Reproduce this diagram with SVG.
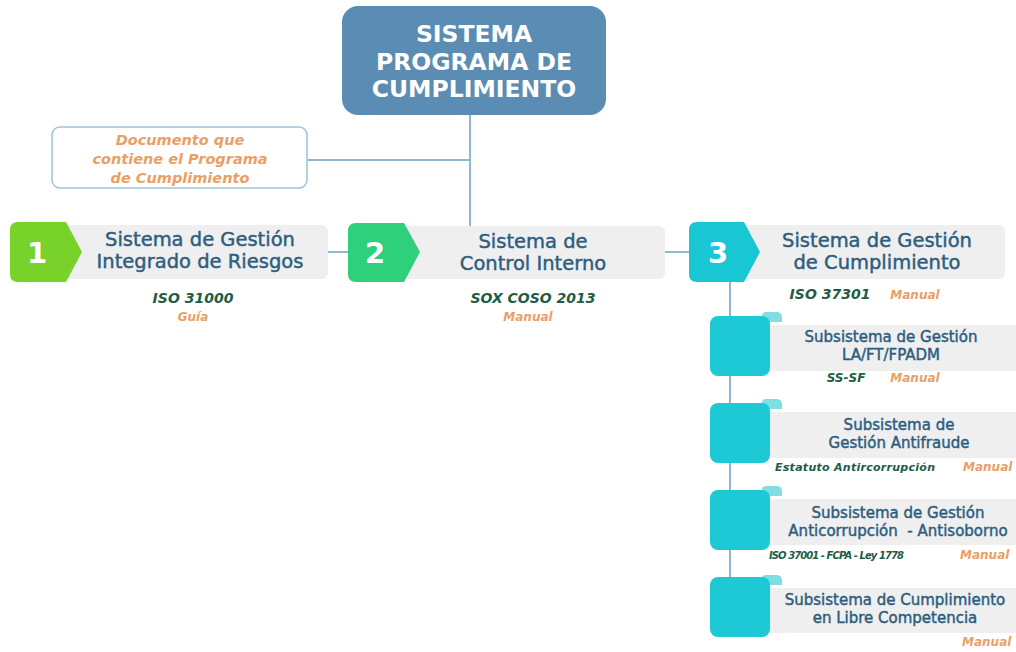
<svg xmlns="http://www.w3.org/2000/svg" width="1016" height="652" viewBox="0 0 1016 652">
<style>
.t{font-family:"DejaVu Sans","Noto Sans",sans-serif;font-weight:normal;fill:#2d5e7e;stroke:#2d5e7e;stroke-width:0.45;text-anchor:middle}
.h{font-size:19.5px}
.s{font-size:15px}
.iso{font-family:"DejaVu Sans","Noto Sans",sans-serif;font-weight:bold;font-style:italic;fill:#1e5c44}
.man{font-family:"DejaVu Sans","Noto Sans",sans-serif;font-weight:bold;font-style:italic;fill:#e9a066}
.bar{fill:#efeff0}
.num{font-family:"DejaVu Sans","Noto Sans",sans-serif;font-weight:bold;font-size:29px;fill:#fff;text-anchor:middle}
.ttl{font-family:"DejaVu Sans","Noto Sans",sans-serif;font-weight:bold;font-size:23.5px;fill:#fff;text-anchor:middle}
.ln{stroke:#8fb8d0;stroke-width:2;fill:none}
.sq{fill:#1cc9d5}
.tab{fill:#7fdde4}
</style>
<g id="connectors">
<line class="ln" x1="470" y1="112" x2="470" y2="226"/>
<line class="ln" x1="307" y1="160" x2="470" y2="160"/>
<line class="ln" x1="328" y1="252" x2="350" y2="252"/>
<line class="ln" x1="665" y1="252" x2="690" y2="252"/>
<line class="ln" x1="730" y1="280" x2="730" y2="628"/>
</g>
<g id="root">
<rect x="342" y="6" width="264" height="109" rx="16" fill="#5b8db4"/>
<text class="ttl" x="474" y="42">SISTEMA</text>
<text class="ttl" x="474" y="70">PROGRAMA DE</text>
<text class="ttl" x="474" y="97">CUMPLIMIENTO</text>
</g>
<g id="doc">
<rect x="52" y="127" width="255" height="61" rx="8" fill="#fff" stroke="#9cc4d8" stroke-width="1.5"/>
<text class="man" x="180" y="145" font-size="14.5" text-anchor="middle">Documento que</text>
<text class="man" x="180" y="164" font-size="14.5" text-anchor="middle">contiene el Programa</text>
<text class="man" x="180" y="183" font-size="14.5" text-anchor="middle">de Cumplimiento</text>
</g>
<g id="node1">
<rect class="bar" x="60" y="225" width="268" height="54" rx="6"/>
<path d="M18 222 H66 L82 252 L66 282 H18 Q10 282 10 274 V230 Q10 222 18 222 Z" fill="#78d22a"/>
<text class="num" x="37" y="263">1</text>
<text class="t h" x="200" y="246">Sistema de Gestión</text>
<text class="t h" x="200" y="268">Integrado de Riesgos</text>
<text class="iso" x="193" y="303" font-size="14" text-anchor="middle">ISO 31000</text>
<text class="man" x="193" y="321" font-size="12" text-anchor="middle">Guía</text>
</g>
<g id="node2">
<rect class="bar" x="398" y="226" width="267" height="53" rx="6"/>
<path d="M356 223 H404 L420 252 L404 282 H356 Q348 282 348 274 V231 Q348 223 356 223 Z" fill="#2fd07c"/>
<text class="num" x="375" y="263">2</text>
<text class="t h" x="533" y="248">Sistema de</text>
<text class="t h" x="533" y="270">Control Interno</text>
<text class="iso" x="533" y="303" font-size="14" text-anchor="middle">SOX COSO 2013</text>
<text class="man" x="528" y="321" font-size="12" text-anchor="middle">Manual</text>
</g>
<g id="node3">
<rect class="bar" x="738" y="225" width="267" height="54" rx="6"/>
<path d="M697 222 H744 L760 252 L744 282 H697 Q689 282 689 274 V230 Q689 222 697 222 Z" fill="#18c7d3"/>
<text class="num" x="718" y="263">3</text>
<text class="t h" x="877" y="247">Sistema de Gestión</text>
<text class="t h" x="877" y="269">de Cumplimiento</text>
<text class="iso" x="830" y="299" font-size="14" text-anchor="middle">ISO 37301</text>
<text class="man" x="915" y="299" font-size="12" text-anchor="middle">Manual</text>
</g>
<g id="sub1">
<rect class="bar" x="765" y="325" width="260" height="46" rx="4"/>
<path class="tab" d="M762 322 V316 Q762 312 766 312 H777 Q782 312 782 318 V322 Z"/>
<rect class="sq" x="710" y="316" width="60" height="60" rx="8"/>
<text class="t s" x="891" y="342">Subsistema de Gestión</text>
<text class="t s" x="891" y="360">LA/FT/FPADM</text>
<text class="iso" x="846" y="382" font-size="12" text-anchor="middle">SS-SF</text>
<text class="man" x="915" y="382" font-size="12" text-anchor="middle">Manual</text>
</g>
<g id="sub2">
<rect class="bar" x="765" y="412" width="260" height="46" rx="4"/>
<path class="tab" d="M762 409 V403 Q762 399 766 399 H777 Q782 399 782 405 V409 Z"/>
<rect class="sq" x="710" y="403" width="60" height="60" rx="8"/>
<text class="t s" x="899" y="430">Subsistema de</text>
<text class="t s" x="899" y="448">Gestión Antifraude</text>
<text class="iso" x="775" y="471" font-size="11" textLength="160">Estatuto Antircorrupción</text>
<text class="man" x="963" y="471" font-size="12">Manual</text>
</g>
<g id="sub3">
<rect class="bar" x="765" y="499" width="260" height="46" rx="4"/>
<path class="tab" d="M762 496 V490 Q762 486 766 486 H777 Q782 486 782 492 V496 Z"/>
<rect class="sq" x="710" y="490" width="60" height="60" rx="8"/>
<text class="t s" x="898" y="518">Subsistema de Gestión</text>
<text class="t s" x="898" y="536" xml:space="preserve">Anticorrupción  - Antisoborno</text>
<text class="iso" x="769" y="559" font-size="10" textLength="135">ISO 37001 - FCPA - Ley 1778</text>
<text class="man" x="960" y="559" font-size="12">Manual</text>
</g>
<g id="sub4">
<rect class="bar" x="765" y="588" width="260" height="45" rx="4"/>
<path class="tab" d="M762 585 V579 Q762 575 766 575 H777 Q782 575 782 581 V585 Z"/>
<rect class="sq" x="710" y="577" width="60" height="60" rx="8"/>
<text class="t s" x="895" y="605">Subsistema de Cumplimiento</text>
<text class="t s" x="895" y="623">en Libre Competencia</text>
<text class="man" x="962" y="646" font-size="12">Manual</text>
</g>
</svg>
